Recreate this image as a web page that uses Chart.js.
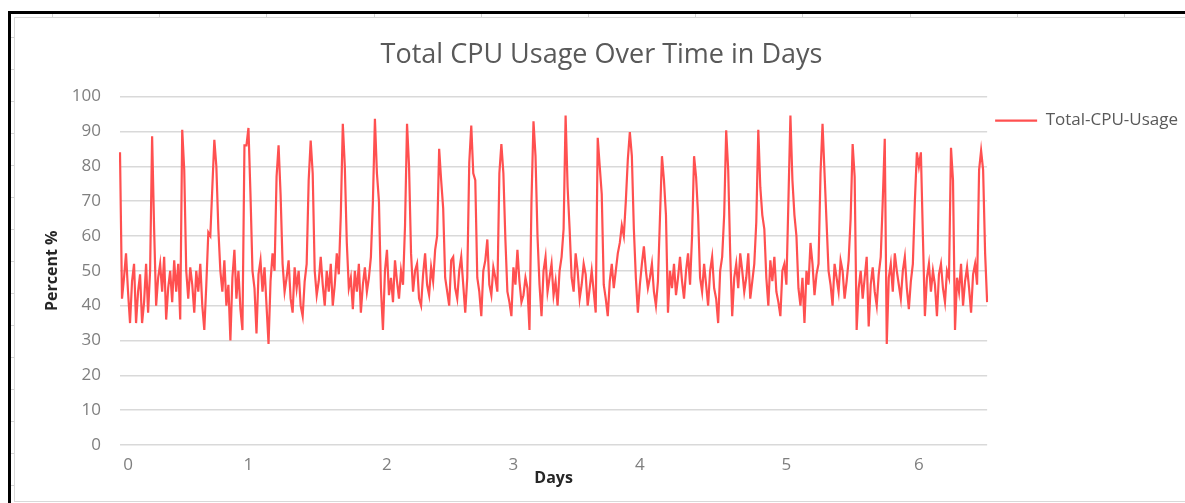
<!DOCTYPE html>
<html>
<head>
<meta charset="utf-8">
<script src="https://cdn.jsdelivr.net/npm/chart.js@4.4.0/dist/chart.umd.min.js"></script>
<style>
  body { margin: 0; background: #fff; }
  #sheet { position: relative; width: 1185px; height: 503px; overflow: hidden; background: #fff; }
  .blk { position: absolute; background: #000; }
  .mark { position: absolute; background: #d4d4d4; }
  #frame { position: absolute; left: 14px; top: 17px; width: 1180px; height: 483px; border: 1px solid #d9d9d9; }
  #wrap { position: absolute; left: 15px; top: 18px; width: 1173px; height: 483px; }
</style>
</head>
<body>
<div id="sheet">
  <div class="blk" style="left:8px;top:11px;width:1177px;height:3px"></div>
  <div class="blk" style="left:8px;top:11px;width:3px;height:492px"></div>
  <div id="frame"></div>
  <div id="wrap"><canvas id="cpuChart"></canvas></div>
</div>
<script>
// CPU usage samples (percent), spike by spike
const cpuUsage = [
  84, 42, 48, 55, 44, 35, 47, 52, 35, 44, 49, 35, 41, 52, 38, 50,
  88.6, 62,
  40, 48, 52, 44, 54, 36, 45, 50, 41, 53, 44, 52, 36,
  90.5, 79,
  50, 42, 51, 46, 38, 50, 44, 52, 40, 33, 46, 61, 60, 74,
  87.6, 80, 62,
  50, 44, 53, 40, 46, 30, 48, 56, 42, 50, 39, 33,
  86, 86, 91, 72,
  50, 45, 32, 49, 53, 44, 51, 40, 29, 47, 55, 50, 77,
  86, 72, 52,
  44, 48, 53, 42, 38, 51, 45, 50, 40, 37, 47, 52, 76,
  87.4, 78, 50,
  43, 47, 54, 46, 40, 50, 44, 52, 40, 46, 55, 49, 66,
  92.2, 80, 58,
  45, 48, 39, 50, 44, 52, 38, 46, 51, 44, 48, 54, 70,
  93.6, 78, 70,
  45, 33, 50, 56, 43, 48, 41, 53, 47, 42, 50, 46, 63,
  92.2, 80, 55,
  44, 50, 52, 42, 40, 49, 55, 46, 43, 51, 47, 56, 60,
  85, 76, 68,
  48, 44, 40, 53, 54, 45, 42, 50, 54, 46, 38, 48, 81,
  91.7, 78, 76,
  48, 44, 37, 50, 53, 59, 46, 43, 51, 48, 44, 78,
  86.4, 78, 59,
  44, 41, 37, 51, 46, 56, 47, 41, 43, 48, 45, 33, 70,
  92.9, 83, 60,
  46, 37, 50, 54, 44, 48, 52, 43, 47, 40, 50, 54, 62,
  94.6, 74, 62,
  48, 44, 55, 50, 42, 46, 52, 49, 40, 45, 50, 44, 38,
  88.2, 80, 72,
  46, 42, 37, 47, 52, 45, 50, 55, 58, 63, 60, 70, 82,
  89.8, 83, 62,
  48, 38, 46, 52, 57, 50, 45, 48, 52, 44, 40, 47, 65,
  82.9, 76, 66, 38,
  50, 45, 52, 43, 48, 54, 47, 42, 50, 55, 46, 60,
  82.9, 77, 66,
  48, 44, 52, 46, 40, 50, 54, 45, 42, 35, 50, 54, 66,
  90.3, 79, 55,
  37, 48, 52, 45, 55, 50, 44, 48, 55, 42, 47, 52, 64,
  90.5, 74, 66,
  62, 48, 40, 53, 47, 54, 44, 41, 37, 50, 52, 46, 70,
  94.6, 76, 66, 60,
  45, 40, 48, 35, 50, 46, 58, 52, 43, 49, 52, 78,
  92.2, 78, 64,
  50, 46, 40, 52, 48, 44, 53, 50, 42, 47, 53, 65,
  86.4, 77, 33,
  45, 50, 42, 48, 54, 34, 46, 51, 44, 40, 49, 54, 70,
  87.9, 29,
  48, 52, 44, 55, 50, 46, 42, 50, 54, 45, 39, 47, 52, 70,
  84, 80, 84, 60,
  37, 48, 52, 44, 50, 46, 37, 49, 52, 45, 41, 50, 48,
  85.3, 76, 33,
  48, 44, 52, 40, 47, 51, 45, 38, 49, 52, 46, 79,
  84.5, 79, 55, 41
];
// which sample carries each day label
const dayTickIndex = [4, 64, 133, 196, 259, 332, 398];
const dayTickText = ['0', '1', '2', '3', '4', '5', '6'];
const yTicks = [0, 100, 10]; // min, max, step

var labels = cpuUsage.map((v, i) => {
  var k = dayTickIndex.indexOf(i);
  return k >= 0 ? dayTickText[k] : '';
});

// excel sheet gridline stubs around the chart
var sheet = document.getElementById('sheet');
for (let i = 0; i < 11; i++) {
  var d = document.createElement('div');
  d.className = 'mark';
  d.style.cssText = `left:${Math.round(52 + i * 107.2)}px;top:14px;width:1px;height:3px`;
  sheet.appendChild(d);
}
for (let i = 0; i < 15; i++) {
  var d = document.createElement('div');
  d.className = 'mark';
  d.style.cssText = `left:11px;top:${37 + i * 32}px;width:3px;height:1px`;
  sheet.appendChild(d);
}

const tickFont = { family: 'Open Sans', size: 17 };

const data = {
  labels: labels,
  datasets: [{
    label: 'Total-CPU-Usage',
    data: cpuUsage,
    borderColor: '#ff5050',
    backgroundColor: '#ff5050',
    borderWidth: 2.2,
    pointRadius: 0,
    tension: 0
  }]
};

const config = {
  type: 'line',
  data: data,
  options: {
    responsive: true,
    maintainAspectRatio: false,
    animation: false,
    devicePixelRatio: 1,
    layout: { padding: 0 },
    plugins: {
      title: {
        display: true,
        text: 'Total CPU Usage Over Time in Days',
        color: '#595959',
        font: { family: 'Open Sans', size: 27, weight: 'normal' },
        padding: { top: 20.8, bottom: 25.4 }
      },
      legend: {
        position: 'right',
        align: 'start',
        fullSize: false,
        title: { display: true, text: '', font: { size: 5 }, padding: { top: 0, bottom: 1.5 } },
        labels: {
          usePointStyle: true,
          pointStyle: 'line',
          pointStyleWidth: 42,
          padding: 8,
          color: '#595959',
          font: tickFont
        }
      },
      tooltip: { enabled: false }
    },
    scales: {
      x: {
        grid: { display: false },
        border: { display: false },
        ticks: {
          autoSkip: false,
          maxRotation: 0,
          minRotation: 0,
          padding: 2,
          color: '#7f7f7f',
          font: tickFont
        },
        title: {
          display: true,
          text: 'Days',
          color: '#262626',
          font: { family: 'Open Sans', size: 16, weight: 'bold' },
          padding: { top: 0, bottom: 13.4 }
        },
        afterFit: s => { s.height = 56; }
      },
      y: {
        min: yTicks[0],
        max: yTicks[1],
        grid: { color: '#d9d9d9', lineWidth: 1.5, drawTicks: false },
        border: { display: false },
        ticks: {
          stepSize: yTicks[2],
          padding: 19,
          color: '#7f7f7f',
          font: tickFont
        },
        title: {
          display: true,
          text: 'Percent %',
          color: '#262626',
          font: { family: 'Open Sans', size: 16, weight: 'bold' },
          padding: { top: 27.4, bottom: 0 }
        },
        afterFit: s => { s.width = 105; }
      }
    }
  }
};

var cpuChart = new Chart(document.getElementById('cpuChart'), config);
</script>
</body>
</html>
